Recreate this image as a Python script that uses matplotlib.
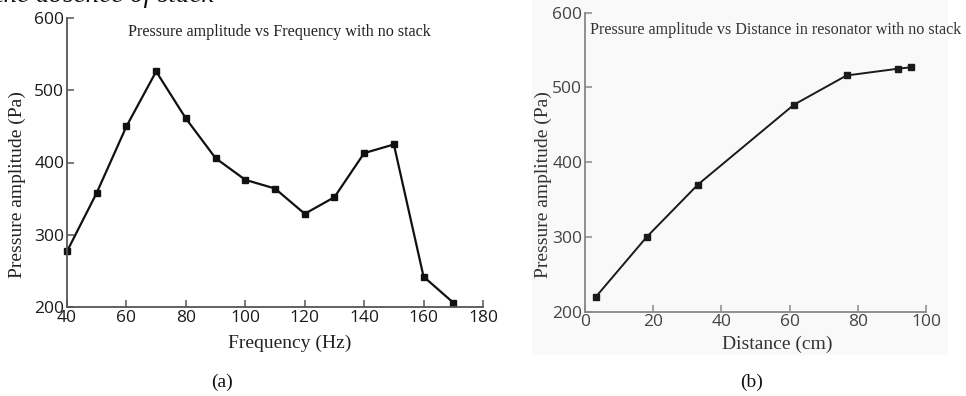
import matplotlib
matplotlib.use("Agg")
import matplotlib.pyplot as plt
from matplotlib.patches import Rectangle

# (a) pressure amplitude vs frequency
freq = [40, 50, 60, 70, 80, 90, 100, 110, 120, 130, 140, 150, 160, 170]
press_freq = [277, 358, 450, 526, 461, 406, 376, 364, 329, 352, 413, 425, 242, 206]

# (b) pressure amplitude vs distance
dist = [3.2, 18.1, 33.1, 61.3, 76.7, 91.7, 95.6]
press_dist = [220, 300, 370, 477, 516, 525, 527]

xticks_a = [40, 60, 80, 100, 120, 140, 160, 180]
xticks_b = [0, 20, 40, 60, 80, 100]
yticks = [200, 300, 400, 500, 600]

W, H = 966, 396
fig = plt.figure(figsize=(W / 100, H / 100), dpi=100)

serif = ['Liberation Serif', 'DejaVu Serif']
sans = ['Open Sans', 'DejaVu Sans']

# faint grey backdrop behind panel (b), like a pasted image
fig.patches.append(Rectangle((532 / W, 1 - 355 / H), (948 - 532) / W, 355 / H,
                             transform=fig.transFigure, facecolor='#f9f9f9',
                             edgecolor='none', zorder=-5))

# cut off caption text at the very top
fig.text(-4 / W, 1 - 1.5 / H, 'the absence of stack', family=serif, style='italic',
         fontsize=19.5, va='baseline', ha='left', color='#111')


def style_axes(ax, spine_col, tick_col, xticks):
    for s in ['top', 'right']:
        ax.spines[s].set_visible(False)
    for s in ['left', 'bottom']:
        ax.spines[s].set_color(spine_col)
        ax.spines[s].set_linewidth(1.3)
    ax.set_xticks(xticks)
    ax.set_yticks(yticks)
    ax.tick_params(direction='in', length=5, width=1.1, color=spine_col,
                   labelcolor=tick_col, labelsize=12.5, pad=2)
    for lab in ax.get_xticklabels() + ax.get_yticklabels():
        lab.set_family(sans)
    ax.patch.set_alpha(0)


# panel (a)
ax1 = fig.add_axes([67 / W, 1 - 307 / H, (483 - 67) / W, (307 - 18) / H])
ax1.plot(freq, press_freq, color='#111', lw=1.6, marker='s', ms=5, clip_on=False)
ax1.set_xlim(40, 180)
ax1.set_ylim(200, 600)
style_axes(ax1, '#555', '#1a1a1a', xticks_a)
ax1.text((128 - 67) / (483 - 67), 1 - (32 - 18) / (307 - 18),
         'Pressure amplitude vs Frequency with no stack', transform=ax1.transAxes,
         family=serif, fontsize=11.6, ha='left', va='center', color='#222')
ax1.set_xlabel('Frequency (Hz)', family=serif, fontsize=14, color='#222')
ax1.xaxis.set_label_coords((290 - 67) / (483 - 67), -(343 - 307) / (307 - 18))
ax1.set_ylabel('Pressure amplitude (Pa)', family=serif, fontsize=14, color='#222')
ax1.yaxis.set_label_coords(-(67 - 17) / (483 - 67), (307 - 185) / (307 - 18))

# panel (b)
ax2 = fig.add_axes([585 / W, 1 - 311.7 / H, (926 - 585) / W, (311.7 - 12.7) / H])
ax2.plot(dist, press_dist, color='#1a1a1a', lw=1.4, marker='s', ms=5, clip_on=False)
ax2.set_xlim(0, 100)
ax2.set_ylim(200, 600)
style_axes(ax2, '#888', '#444', xticks_b)
ax2.text((590 - 585) / (926 - 585), 1 - (30 - 12.7) / (311.7 - 12.7),
         'Pressure amplitude vs Distance in resonator with no stack', transform=ax2.transAxes,
         family=serif, fontsize=11.6, ha='left', va='center', color='#333')
ax2.set_xlabel('Distance (cm)', family=serif, fontsize=14, color='#333')
ax2.xaxis.set_label_coords((777 - 585) / (926 - 585), -(344 - 311.7) / (311.7 - 12.7))
ax2.set_ylabel('Pressure amplitude (Pa)', family=serif, fontsize=14, color='#333')
ax2.yaxis.set_label_coords(-(585 - 543) / (926 - 585), (311.7 - 185) / (311.7 - 12.7))

for lab, xc in [('(a)', 222), ('(b)', 752)]:
    fig.text(xc / W, 1 - 382 / H, lab, family=serif, fontsize=14, ha='center', va='center',
             color='#111')

for ax in (ax1, ax2):
    ax.xaxis.label.set_verticalalignment('center')
    ax.yaxis.label.set_verticalalignment('center')

fig.savefig('out.png', dpi=100)
